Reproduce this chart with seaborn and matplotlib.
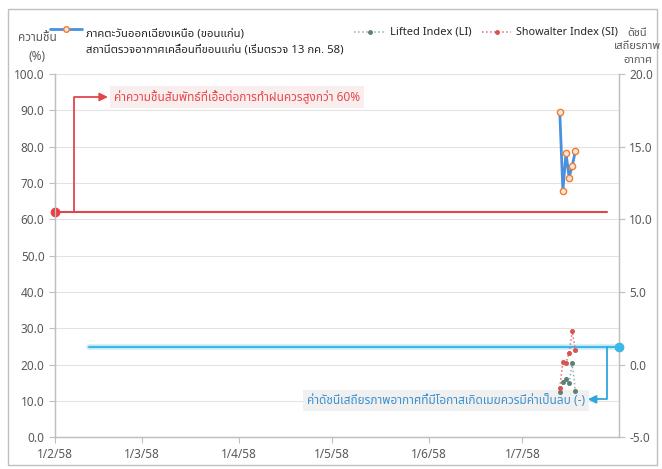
import pandas as pd
import numpy as np
import matplotlib
matplotlib.use('Agg')
import matplotlib.pyplot as plt
from matplotlib import font_manager
from matplotlib.lines import Line2D
from matplotlib.patches import Rectangle
import seaborn as sns

# data
dates = ['2015-07-13', '2015-07-14', '2015-07-15', '2015-07-16', '2015-07-17', '2015-07-18']
humidity = [89.6, 67.9, 78.3, 71.5, 74.7, 78.8]
lifted_index = [-1.9, -1.2, -1.0, -1.3, 0.1, -1.8]
showalter_index = [-1.6, 0.2, 0.1, 0.8, 2.3, 1.0]
tick_dates = ['2015-02-01', '2015-03-01', '2015-04-01', '2015-05-01', '2015-06-01', '2015-07-01']
tick_labels = ['1/2/58', '1/3/58', '1/4/58', '1/5/58', '1/6/58', '1/7/58']
rh_threshold = 62.0
stability_line = 1.2

legend_rh = 'ภาคตะวันออกเฉียงเหนือ (ขอนแก่น)\nสถานีตรวจอากาศเคลื่อนที่ขอนแก่น (เริ่มตรวจ 13 กค. 58)'
legend_li = 'Lifted Index (LI)'
legend_si = 'Showalter Index (SI)'
note_rh = 'ค่าความชื้นสัมพัทธ์ที่เอื้อต่อการทำฝนควรสูงกว่า 60%'
note_si = 'ค่าดัชนีเสถียรภาพอากาศที่มีโอกาสเกิดเมฆควรมีค่าเป็นลบ (-)'


def find_thai_font():
    try:
        from fontTools.ttLib import TTFont
    except ImportError:
        return None
    found = []
    for fe in font_manager.fontManager.ttflist:
        try:
            f = TTFont(fe.fname, fontNumber=0, lazy=True)
            if 0x0E01 in f.getBestCmap():
                found.append(fe.name)
        except Exception:
            pass
    for pref in ['Noto Sans Thai', 'Tahoma', 'Leelawadee UI', 'Loma', 'Garuda', 'Sarabun']:
        if pref in found:
            return pref
    return found[0] if found else None


sns.set_theme(style='white')
thai = find_thai_font()
families = ([thai] if thai else []) + ['DejaVu Sans']
plt.rcParams['font.family'] = families

df = pd.DataFrame({'date': pd.to_datetime(dates), 'rh': humidity,
                   'li': lifted_index, 'si': showalter_index})

fig = plt.figure(figsize=(6.62, 4.69), dpi=100)
ax = fig.add_axes([0.083, 0.068, 0.852, 0.774])
ax2 = ax.twinx()

grey = '#595959'
sns.lineplot(data=df, x='date', y='rh', ax=ax, color='#4a8fe0', lw=2.0,
             marker='o', markersize=4.5, markerfacecolor='#fbe5d6',
             markeredgecolor='#ed7d31', markeredgewidth=1.0, zorder=5)
sns.lineplot(data=df, x='date', y='li', ax=ax2, color='#8fb3a8', lw=1.1,
             linestyle=':', marker='o', markersize=2.8, markerfacecolor='#5f7f77',
             markeredgecolor='#5f7f77', zorder=5)
sns.lineplot(data=df, x='date', y='si', ax=ax2, color='#e06c75', lw=1.1,
             linestyle=':', marker='o', markersize=2.8, markerfacecolor='#d9534f',
             markeredgecolor='#d9534f', zorder=5)

x0 = pd.Timestamp('2015-02-01')
x1 = pd.Timestamp('2015-08-01')
ax.set_xlim(x0, x1)
ax.set_ylim(0, 100)
ax2.set_ylim(-5, 20)

# threshold lines
ax.plot([x0, pd.Timestamp('2015-07-28')], [rh_threshold, rh_threshold],
        color='#e0474c', lw=1.5, zorder=3)
ax.plot([x0], [rh_threshold], 'o', color='#e8404a', ms=6, clip_on=False, zorder=6)
ax2.plot([pd.Timestamp('2015-02-12'), x1], [stability_line, stability_line],
         color='#a8e0f5', lw=4, alpha=0.6, clip_on=False, zorder=2)
ax2.plot([pd.Timestamp('2015-02-12'), x1], [stability_line, stability_line],
         color='#3cb8e6', lw=1.5, clip_on=False, zorder=3)
ax2.plot([x1], [stability_line], 'o', color='#3cb8e6', ms=6, clip_on=False, zorder=6)

# annotations with elbow arrows
ax.annotate('', xy=(pd.Timestamp('2015-02-18'), 93.7), xytext=(pd.Timestamp('2015-02-07'), rh_threshold),
            arrowprops=dict(arrowstyle='-|>', color='#e0474c', lw=1.3, shrinkA=0, shrinkB=0,
                            connectionstyle='angle,angleA=90,angleB=0,rad=0'))
ax.text(pd.Timestamp('2015-02-20'), 93.7, note_rh, color='#e8474c', fontsize=8.5,
        style='italic', va='center', ha='left',
        bbox=dict(boxstyle='square,pad=0.35', fc='#f9eeee', ec='none'))
ax2.annotate('', xy=(pd.Timestamp('2015-07-22'), -2.4), xytext=(pd.Timestamp('2015-07-28'), stability_line),
             arrowprops=dict(arrowstyle='-|>', color='#2ea6e0', lw=1.3, shrinkA=0, shrinkB=0,
                             connectionstyle='angle,angleA=90,angleB=0,rad=0'))
ax2.text(pd.Timestamp('2015-07-21'), -2.5, note_si, color='#3a8fd0', fontsize=8.5,
         style='italic', va='center', ha='right',
         bbox=dict(boxstyle='square,pad=0.35', fc='#f0f0f0', ec='none'))

# axes styling
ax.set_xticks(pd.to_datetime(tick_dates))
ax.set_xticklabels(tick_labels)
ax.set_yticks(np.arange(0, 101, 10))
ax.set_yticklabels([f'{v:.1f}' for v in np.arange(0, 101, 10)])
ax2.set_yticks(np.arange(-5, 21, 5))
ax2.set_yticklabels([f'{v:.1f}' for v in np.arange(-5, 21, 5)])
ax.set_xlabel('')
ax.set_ylabel('')
ax2.set_ylabel('')
ax.yaxis.grid(True, color='#e3e3e3', lw=0.8)
ax.set_axisbelow(True)
for a in (ax, ax2):
    a.tick_params(axis='both', labelsize=8.5, labelcolor=grey, color='#bfbfbf',
                  length=4, width=0.8, direction='out')
    a.spines['top'].set_visible(False)
    for s in ('left', 'right', 'bottom'):
        a.spines[s].set_color('#bfbfbf')
        a.spines[s].set_linewidth(0.9)
ax.tick_params(axis='y', left=True)
ax2.tick_params(axis='y', right=True)
ax.tick_params(axis='x', bottom=True)

# legend drawn by hand at the top
def handle(xa, xb, y, color, ls, lw, mfc, mec, ms):
    fig.add_artist(Line2D([xa, xb], [y, y], color=color, ls=ls, lw=lw,
                          transform=fig.transFigure))
    fig.add_artist(Line2D([(xa + xb) / 2], [y], marker='o', ms=ms, mfc=mfc, mec=mec,
                          transform=fig.transFigure))

handle(0.0755, 0.124, 0.938, '#4a8fe0', '-', 2.0, '#fbe5d6', '#ed7d31', 4)
fig.text(0.13, 0.91, legend_rh, fontsize=8.2, color='#262626', va='center', ha='left',
         linespacing=1.6)
handle(0.535, 0.583, 0.932, '#8fb3a8', ':', 1.1, '#5f7f77', '#5f7f77', 2.5)
fig.text(0.589, 0.932, legend_li, fontsize=8.0, color='#262626', va='center', ha='left')
handle(0.728, 0.772, 0.932, '#e06c75', ':', 1.1, '#d9534f', '#d9534f', 2.5)
fig.text(0.779, 0.932, legend_si, fontsize=7.8, color='#262626', va='center', ha='left')

fig.text(0.056, 0.9, 'ความชื้น\n(%)', fontsize=8.5, color=grey, ha='center', va='center',
         linespacing=1.6)
fig.text(0.963, 0.9, 'ดัชนี\nเสถียรภาพ\nอากาศ', fontsize=8.0, color=grey, ha='center',
         va='center', linespacing=1.3)

fig.add_artist(Rectangle((0.012, 0.008), 0.98, 0.972, transform=fig.transFigure,
                         fill=False, ec='#bfbfbf', lw=1))

fig.savefig('out.png', dpi=100, facecolor='white')
